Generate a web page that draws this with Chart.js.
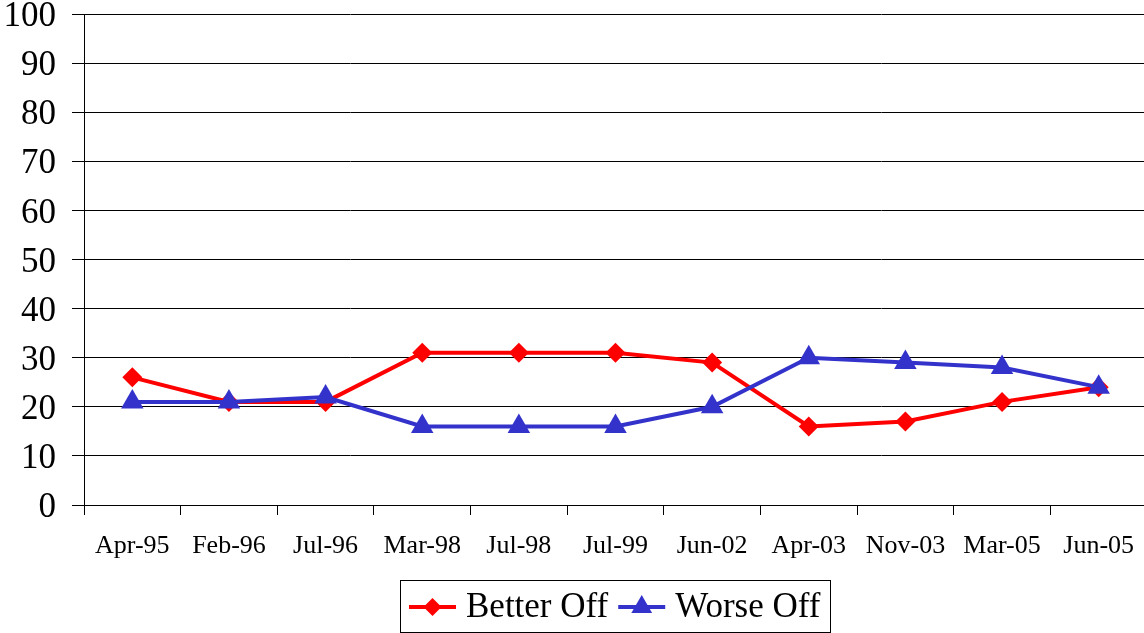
<!DOCTYPE html>
<html>
<head>
<meta charset="utf-8">
<script src="https://cdn.jsdelivr.net/npm/chart.js@4.4.0/dist/chart.umd.min.js"></script>
<style>
  html, body { margin: 0; padding: 0; overflow: hidden; background: #fff; }
  /* chart.js keeps ~30px above the top gridline, pull it up */
  #canvas { display: block; margin-top: -16px; }
</style>
</head>
<body>
<canvas id="canvas" width="1160" height="649"></canvas>
<script>
// survey dates
var labels = ["Apr-95", "Feb-96", "Jul-96", "Mar-98", "Jul-98", "Jul-99",
  "Jun-02", "Apr-03", "Nov-03", "Mar-05", "Jun-05"];
// percentages
var betterOff = [26, 21, 21, 31, 31, 31, 29, 16, 17, 21, 24];
var worseOff = [21, 21, 22, 16, 16, 16, 20, 30, 29, 28, 24];
var yMin = 0;
var yMax = 100;
var yStep = 10;

var serif = "'Times New Roman', 'Liberation Serif', serif";

// legend in a box with line + marker, like the excel one
var boxLegend = {
  id: "boxLegend",
  afterDraw: function (chart) {
    var ctx = chart.ctx;
    var area = chart.chartArea;
    var sets = chart.data.datasets;
    ctx.save();
    ctx.font = "35px " + serif;
    var lineLen = 47, gap = 10, padL = 9, padR = 10;
    var total = padL + padR;
    var widths = sets.map(function (ds, i) {
      var w = ctx.measureText(ds.label).width;
      total += lineLen + gap + w + (i > 0 ? gap : 0);
      return w;
    });
    var left = Math.round((area.left + area.right) / 2 - total / 2);
    var top = area.bottom + 75, cy = area.bottom + 102;
    ctx.strokeStyle = "#000";
    ctx.lineWidth = 1;
    ctx.strokeRect(left + 0.5, top + 0.5, Math.round(total), 52);
    var x = left + padL;
    sets.forEach(function (ds, i) {
      if (i > 0) x += gap;
      ctx.strokeStyle = ds.borderColor;
      ctx.lineWidth = ds.borderWidth;
      ctx.beginPath();
      ctx.moveTo(x, cy);
      ctx.lineTo(x + lineLen, cy);
      ctx.stroke();
      ctx.fillStyle = ds.pointBackgroundColor;
      Chart.helpers.drawPoint(ctx, {
        pointStyle: ds.pointStyle,
        radius: ds.pointRadius - 1,
        rotation: 0,
        borderWidth: 0
      }, x + lineLen / 2, cy);
      x += lineLen + gap;
      ctx.fillStyle = "#000";
      ctx.textBaseline = "middle";
      ctx.textAlign = "left";
      ctx.fillText(ds.label, x, cy + 1);
      x += widths[i];
    });
    ctx.restore();
  }
};

const ctx = document.getElementById("canvas").getContext("2d");

const myChart = new Chart(ctx, {
  type: "line",
  data: {
    labels: labels,
    datasets: [
      {
        label: "Better Off",
        data: betterOff,
        borderColor: "#FF0000",
        backgroundColor: "#FF0000",
        pointBackgroundColor: "#FF0000",
        pointBorderColor: "#FF0000",
        borderWidth: 4,
        pointStyle: "rectRot",
        pointRadius: 10,
        pointBorderWidth: 0,
        tension: 0,
        order: 1,
      },
      {
        label: "Worse Off",
        data: worseOff,
        borderColor: "#3333CC",
        backgroundColor: "#3333CC",
        pointBackgroundColor: "#3333CC",
        pointBorderColor: "#3333CC",
        borderWidth: 4,
        pointStyle: "triangle",
        pointRadius: 13,
        pointBorderWidth: 0,
        tension: 0,
        order: 0,
      },
    ],
  },
  options: {
    responsive: false,
    animation: false,
    layout: { padding: { top: 0, bottom: 58, left: 0, right: 0 } },
    plugins: {
      legend: { display: false },
      tooltip: { enabled: false },
    },
    scales: {
      x: {
        offset: true,
        afterFit: function (s) { s.height = 70; },
        grid: {
          offset: true,
          drawOnChartArea: false,
          drawTicks: true,
          tickLength: 10,
          color: "#000",
        },
        border: { display: true, color: "#000", width: 1 },
        ticks: {
          color: "#000",
          padding: 16,
          maxRotation: 0,
          autoSkip: false,
          font: { family: serif, size: 26 },
        },
      },
      y: {
        min: yMin,
        max: yMax,
        afterFit: function (s) { s.width = 84; },
        grid: {
          color: "#000",
          lineWidth: 1,
          drawTicks: true,
          tickLength: 12,
        },
        border: { display: true, color: "#000", width: 1 },
        ticks: {
          stepSize: yStep,
          color: "#000",
          padding: 16,
          labelOffset: 3,
          font: { family: serif, size: 35, lineHeight: 0.8 },
        },
      },
    },
  },
  plugins: [boxLegend],
});
</script>
</body>
</html>
